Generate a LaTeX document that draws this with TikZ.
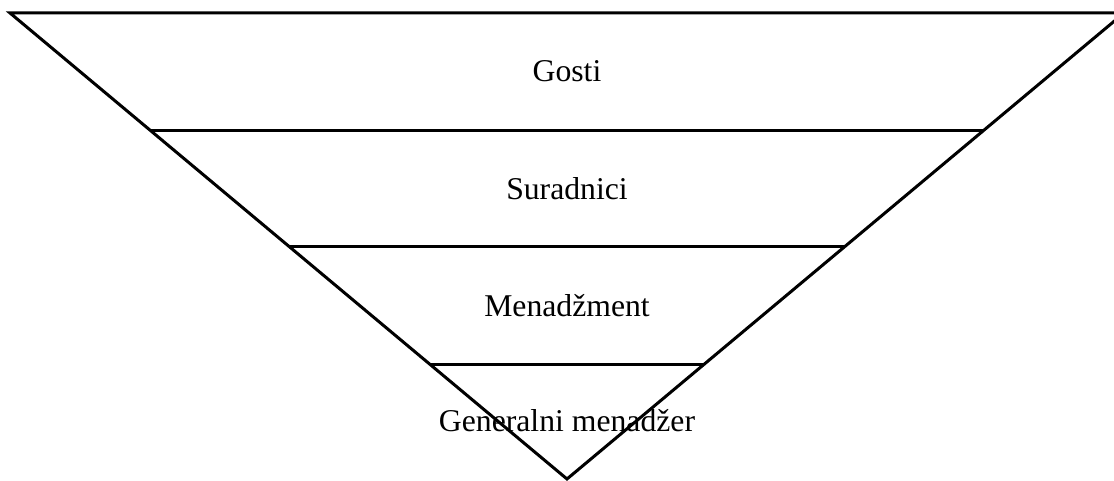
\documentclass[tikz,border=0pt]{standalone}
\usepackage{fontspec}
\setmainfont{Liberation Serif}
\usetikzlibrary{calc}
\begin{document}
\begin{tikzpicture}[x=1pt,y=1pt,line width=3pt,
  level/.style={anchor=base,font=\fontsize{31.7}{38}\selectfont}]
  \useasboundingbox (0,0) rectangle (1114,481);
  \clip (0,0) rectangle (1114,481);

  \coordinate (topL) at (10,468);
  \coordinate (topR) at (1124,468);
  \coordinate (apex) at (567,2);
  \draw (topL)--(topR)--(apex)--cycle;
  \foreach \t in {0.748,0.499,0.245}
    \draw ($(apex)!\t!(topL)$)--($(apex)!\t!(topR)$);

    \node[level] at (567,399.3)   (gosti) {Gosti};
    \node[level] at (567,281.7)   (suradnici) {Suradnici};
    \node[level] at (567,164)   (menadzment) {Menadžment};
    \node[level] at (567,49.3)   (gm) {Generalni menadžer};
\end{tikzpicture}
\end{document}
